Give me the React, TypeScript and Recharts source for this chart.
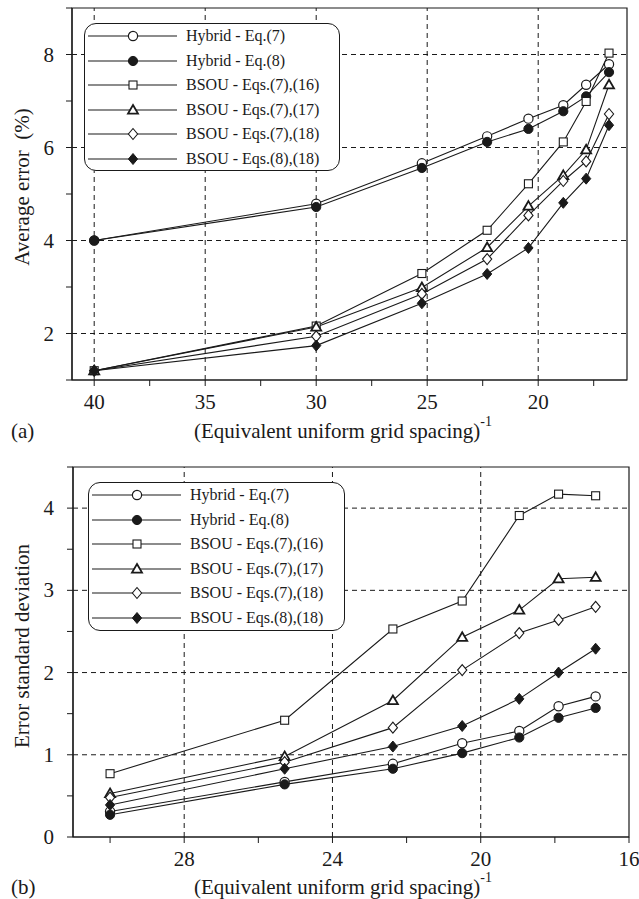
import React from 'react';
import { LineChart, Line, XAxis, YAxis, ReferenceLine, ReferenceArea, Legend } from 'recharts';

const FONT = '"Liberation Serif", "Times New Roman", serif';
const INK = '#1a1a1a';

const seriesNames = [
  'Hybrid - Eq.(7)',
  'Hybrid - Eq.(8)',
  'BSOU - Eqs.(7),(16)',
  'BSOU - Eqs.(7),(17)',
  'BSOU - Eqs.(7),(18)',
  'BSOU - Eqs.(8),(18)',
];
const seriesKeys = ['h7', 'h8', 's716', 's717', 's718', 's818'];
const markerShapes = ['circleOpen', 'circleFilled', 'square', 'triangle', 'diamondOpen', 'diamondFilled'];

// (a) Average error (%)
const spacingA = [40, 30, 25.24, 22.3, 20.44, 18.87, 17.84, 16.81];
const avgHybrid7 = [4.0, 4.79, 5.66, 6.24, 6.62, 6.91, 7.35, 7.79];
const avgHybrid8 = [4.0, 4.72, 5.56, 6.12, 6.4, 6.78, 7.1, 7.62];
const avgBsou716 = [1.2, 2.16, 3.29, 4.22, 5.22, 6.12, 6.99, 8.03];
const avgBsou717 = [1.2, 2.14, 2.99, 3.85, 4.74, 5.4, 5.95, 7.35];
const avgBsou718 = [1.2, 1.94, 2.85, 3.6, 4.54, 5.28, 5.7, 6.72];
const avgBsou818 = [1.2, 1.74, 2.65, 3.28, 3.84, 4.81, 5.33, 6.48];

// (b) Error standard deviation
const spacingB = [30, 25.29, 22.37, 20.5, 18.96, 17.9, 16.9];
const sdHybrid7 = [0.31, 0.67, 0.89, 1.14, 1.29, 1.59, 1.71];
const sdHybrid8 = [0.27, 0.64, 0.83, 1.02, 1.21, 1.45, 1.57];
const sdBsou716 = [0.77, 1.42, 2.53, 2.87, 3.91, 4.17, 4.15];
const sdBsou717 = [0.53, 0.98, 1.66, 2.43, 2.76, 3.14, 3.16];
const sdBsou718 = [0.48, 0.91, 1.33, 2.03, 2.48, 2.64, 2.8];
const sdBsou818 = [0.39, 0.83, 1.1, 1.35, 1.68, 2.0, 2.29];

// axis ticks
const xTicksA = [40, 37.5, 35, 32.5, 30, 27.5, 25, 22.5, 20, 17.5];
const xGridA = [40, 35, 30, 25, 20];
const yTicksA = [1, 2, 3, 4, 5, 6, 7, 8, 9];
const yGridA = [2, 4, 6, 8];

const xTicksB = [30, 28, 26, 24, 22, 20, 18, 16];
const xGridB = [28, 24, 20];
const yTicksB = [0, 0.5, 1, 1.5, 2, 2.5, 3, 3.5, 4, 4.5];
const yGridB = [1, 2, 3, 4];

const buildRows = (xs: number[], cols: number[][]) =>
  xs.map((x, i) => {
    const row: any = { x };
    seriesKeys.forEach((k, j) => {
      row[k] = cols[j][i];
    });
    return row;
  });

const dataA = buildRows(spacingA, [avgHybrid7, avgHybrid8, avgBsou716, avgBsou717, avgBsou718, avgBsou818]);
const dataB = buildRows(spacingB, [sdHybrid7, sdHybrid8, sdBsou716, sdBsou717, sdBsou718, sdBsou818]);

const Marker = ({ cx, cy, shape }: { cx: number; cy: number; shape: string }) => {
  if (cx == null || cy == null) return null;
  switch (shape) {
    case 'circleOpen':
      return <circle cx={cx} cy={cy} r={4.6} fill="#fff" stroke={INK} strokeWidth={1.2} />;
    case 'circleFilled':
      return <circle cx={cx} cy={cy} r={4.6} fill={INK} stroke={INK} strokeWidth={1} />;
    case 'square':
      return <rect x={cx - 4} y={cy - 4} width={8} height={8} fill="#fff" stroke={INK} strokeWidth={1.1} />;
    case 'triangle':
      return (
        <polygon
          points={`${cx},${cy - 5} ${cx + 5},${cy + 3.6} ${cx - 5},${cy + 3.6}`}
          fill="#fff"
          stroke={INK}
          strokeWidth={1.8}
        />
      );
    case 'diamondOpen':
      return (
        <polygon
          points={`${cx},${cy - 5.5} ${cx + 4.6},${cy} ${cx},${cy + 5.5} ${cx - 4.6},${cy}`}
          fill="#fff"
          stroke={INK}
          strokeWidth={1.1}
        />
      );
    case 'diamondFilled':
      return (
        <polygon
          points={`${cx},${cy - 5.5} ${cx + 4.6},${cy} ${cx},${cy + 5.5} ${cx - 4.6},${cy}`}
          fill={INK}
          stroke={INK}
          strokeWidth={1}
        />
      );
    default:
      return null;
  }
};

const dotFor = (shape: string) => (p: any) => <Marker key={`d-${shape}-${p.index}`} cx={p.cx} cy={p.cy} shape={shape} />;

const makeXTick = (step: number) => (p: any) => {
  const v = p.payload.value;
  const major = Math.abs(v % step) < 1e-6;
  return (
    <g>
      <line x1={p.x} x2={p.x} y1={p.y} y2={p.y + 6} stroke={INK} strokeWidth={1} />
      {major && (
        <text x={p.x} y={p.y + 29} textAnchor="middle" fontSize={21} fontFamily={FONT} fill={INK}>
          {v}
        </text>
      )}
    </g>
  );
};

const makeYTick = (step: number, gap: number) => (p: any) => {
  const v = p.payload.value;
  const major = Math.abs(v % step) < 1e-6;
  return (
    <g>
      <line x1={p.x - 6} x2={p.x} y1={p.y} y2={p.y} stroke={INK} strokeWidth={1} />
      {major && (
        <text x={p.x - gap} y={p.y + 7} textAnchor="end" fontSize={21} fontFamily={FONT} fill={INK}>
          {v}
        </text>
      )}
    </g>
  );
};

const LegendBox = () => (
  <div
    style={{
      width: '100%',
      height: '100%',
      boxSizing: 'border-box',
      border: `1.2px solid ${INK}`,
      borderRadius: 12,
      background: '#fff',
      fontFamily: FONT,
      fontSize: 16,
      color: INK,
    }}
  >
    {seriesNames.map((name, i) => (
      <div key={name} style={{ height: 24.5, display: 'flex', alignItems: 'center' }}>
        <svg width={96} height={24} style={{ display: 'block', flex: 'none' }}>
          <line x1={3} x2={92} y1={12} y2={12} stroke={INK} strokeWidth={1.2} />
          <Marker cx={48} cy={12} shape={markerShapes[i]} />
        </svg>
        <span style={{ marginLeft: 5, whiteSpace: 'nowrap', lineHeight: '24px' }}>{name}</span>
      </div>
    ))}
  </div>
);

const XTitle = ({ y, tag }: { y: number; tag: string }) => (
  <g>
    <text x={343} y={y} textAnchor="middle" fontSize={21} fontFamily={FONT} fill={INK}>
      (Equivalent uniform grid spacing)
      <tspan dy={-12} fontSize={14}>
        -1
      </tspan>
    </text>
    <text x={11} y={y} fontSize={21} fontFamily={FONT} fill={INK}>
      {tag}
    </text>
  </g>
);

const YTitle = ({ cy, text }: { cy: number; text: string }) => (
  <text
    x={22}
    y={cy}
    transform={`rotate(-90, 22, ${cy})`}
    textAnchor="middle"
    dominantBaseline="central"
    fontSize={21}
    fontFamily={FONT}
    fill={INK}
    style={{ whiteSpace: 'pre' }}
  >
    {text}
  </text>
);

const renderSeries = () =>
  seriesKeys.map((k, i) => (
    <Line
      key={k}
      dataKey={k}
      name={seriesNames[i]}
      type="linear"
      stroke={INK}
      strokeWidth={1.1}
      dot={dotFor(markerShapes[i])}
      activeDot={false}
      isAnimationActive={false}
    />
  ));

export default function App() {
  return (
    <div style={{ position: 'absolute', left: 0, top: 0, width: 639, height: 899, background: '#fff', fontFamily: FONT }}>
      <div style={{ position: 'absolute', left: 0, top: 0 }}>
        <LineChart width={639} height={450} data={dataA} margin={{ top: 8, right: 12, bottom: 0, left: 0 }}>
          {xGridA.map((v) => (
            <ReferenceLine key={`gx${v}`} x={v} stroke={INK} strokeDasharray="5 4" strokeWidth={1} />
          ))}
          {yGridA.map((v) => (
            <ReferenceLine key={`gy${v}`} y={v} stroke={INK} strokeDasharray="5 4" strokeWidth={1} />
          ))}
          <ReferenceArea x1={16} x2={41} y1={1} y2={9} fill="none" stroke={INK} strokeWidth={1.2} />
          <XAxis
            dataKey="x"
            type="number"
            domain={[16, 41]}
            reversed
            ticks={xTicksA}
            interval={0}
            height={70}
            tickSize={0}
            tickMargin={0}
            tickLine={false}
            axisLine={{ stroke: INK, strokeWidth: 1.2 }}
            tick={makeXTick(5)}
            allowDataOverflow
            label={() => <XTitle y={438} tag="(a)" />}
          />
          <YAxis
            type="number"
            domain={[1, 9]}
            ticks={yTicksA}
            interval={0}
            width={72}
            tickSize={0}
            tickMargin={0}
            tickLine={false}
            axisLine={{ stroke: INK, strokeWidth: 1.2 }}
            tick={makeYTick(2, 18)}
            allowDataOverflow
            label={() => <YTitle cy={187} text={'Average error\u00a0\u00a0(%)'} />}
          />
          <Legend
            layout="vertical"
            align="center"
            verticalAlign="middle"
            wrapperStyle={{ left: 84, top: 23, width: 256, height: 148 }}
            content={() => <LegendBox />}
          />
          {renderSeries()}
        </LineChart>
      </div>
      <div style={{ position: 'absolute', left: 0, top: 450 }}>
        <LineChart width={639} height={449} data={dataB} margin={{ top: 17, right: 10, bottom: 0, left: 0 }}>
          {xGridB.map((v) => (
            <ReferenceLine key={`gx${v}`} x={v} stroke={INK} strokeDasharray="5 4" strokeWidth={1} />
          ))}
          {yGridB.map((v) => (
            <ReferenceLine key={`gy${v}`} y={v} stroke={INK} strokeDasharray="5 4" strokeWidth={1} />
          ))}
          <ReferenceArea x1={16} x2={31} y1={0} y2={4.5} fill="none" stroke={INK} strokeWidth={1.2} />
          <XAxis
            dataKey="x"
            type="number"
            domain={[16, 31]}
            reversed
            ticks={xTicksB}
            interval={0}
            height={62}
            tickSize={0}
            tickMargin={0}
            tickLine={false}
            axisLine={{ stroke: INK, strokeWidth: 1.2 }}
            tick={makeXTick(4)}
            allowDataOverflow
            label={() => <XTitle y={444} tag="(b)" />}
          />
          <YAxis
            type="number"
            domain={[0, 4.5]}
            ticks={yTicksB}
            interval={0}
            width={73}
            tickSize={0}
            tickMargin={0}
            tickLine={false}
            axisLine={{ stroke: INK, strokeWidth: 1.2 }}
            tick={makeYTick(1, 19)}
            allowDataOverflow
            label={() => <YTitle cy={196} text="Error standard deviation" />}
          />
          <Legend
            layout="vertical"
            align="center"
            verticalAlign="middle"
            wrapperStyle={{ left: 88, top: 32, width: 257, height: 149 }}
            content={() => <LegendBox />}
          />
          {renderSeries()}
        </LineChart>
      </div>
    </div>
  );
}
